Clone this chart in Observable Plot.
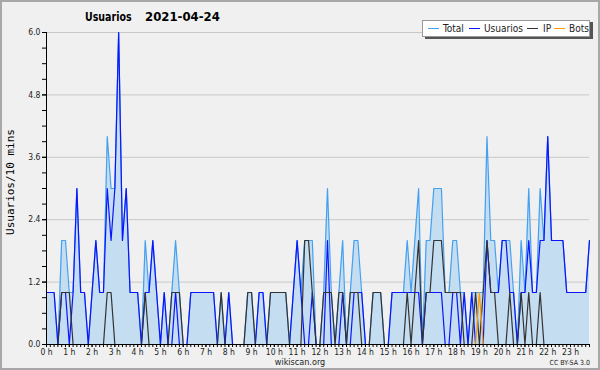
<!DOCTYPE html>
<html><head><meta charset="utf-8">
<script src="https://cdn.jsdelivr.net/npm/d3@7"></script>
<script src="https://cdn.jsdelivr.net/npm/@observablehq/plot@0.6"></script>
<style>
body{margin:0;background:#f0f0f0;}
#wrap{position:relative;width:600px;height:370px;background:#f0f0f0;font-family:"DejaVu Sans Condensed","DejaVu Sans",sans-serif;overflow:hidden;color:#000}
#frame{position:absolute;left:0;top:0;width:600px;height:370px;box-sizing:border-box;border:2px solid #a8a8a8;pointer-events:none}
.tt{position:absolute;top:9px;font-weight:bold;font-size:13px;white-space:pre;line-height:16px}
#t1{left:85px;transform:scaleX(0.81);transform-origin:0 0}
#t2{left:145px}
#legend{position:absolute;left:422px;top:20px;width:166px;height:15px;background:#fff;border:1px solid #999;box-shadow:3px 2px 0 #555;}
.lg{position:absolute;top:0;font-size:10px;line-height:15px;white-space:nowrap;color:#222}
.dash{position:absolute;top:7px;width:11px;height:1.4px}
#ytitle{position:absolute;left:10px;top:182px;transform:translate(-50%,-50%) rotate(-90deg);font-family:"DejaVu Sans Mono",monospace;font-size:11px;white-space:nowrap}
#site{position:absolute;left:300px;top:357px;transform:translateX(-50%);font-size:9px;line-height:10px;color:#222}
#cc{position:absolute;right:10px;top:359px;font-size:7px;line-height:8px;color:#222}
svg{position:absolute;left:0;top:0}
</style></head>
<body>
<div id="wrap">
  <div class="tt" id="t1">Usuarios</div>
  <div class="tt" id="t2">2021-04-24</div>
  <div id="ytitle">Usuarios/10 mins</div>
  <div id="site">wikiscan.org</div>
  <div id="cc">CC BY-SA 3.0</div>
  <div id="legend"></div>
  <div id="frame"></div>
</div>
<script>
// 10-minute slots, 0 .. 143
const total = [1,1,1,0,2,2,1,1,3,1,1,0,1,2,1,1,4,3,3,6,2,3,1,1,1,0,2,1,2,1,0,1,0,1,2,1,0,0,1,1,
1,1,1,1,1,0,1,0,1,0,0,0,0,1,1,0,1,1,0,1,1,1,1,1,0,1,2,1,2,2,2,0,0,1,3,1,0,1,2,0,
1,2,2,1,0,0,1,1,1,0,0,1,1,1,1,2,1,2,3,0,2,2,3,3,3,1,1,2,2,1,1,0,1,1,1,1,4,2,2,1,
2,2,2,1,0,2,1,3,1,1,3,2,4,2,2,2,2,1,1,1,1,1,1,2];
const usuarios = [1,1,1,0,1,1,0,1,3,1,1,0,1,2,1,1,3,2,3,6,2,3,1,1,1,0,1,1,2,1,0,1,0,0,1,0,0,0,1,1,
1,1,1,1,1,0,0,0,1,0,0,0,0,0,0,0,1,1,0,0,0,0,0,0,0,1,2,1,0,0,1,0,0,0,2,0,0,0,1,0,
0,1,1,1,0,0,0,0,0,0,0,1,1,1,1,1,1,1,1,0,1,1,1,1,1,0,0,1,1,0,1,0,1,0,0,0,2,1,1,1,
2,2,1,1,0,1,1,2,1,1,2,2,4,2,2,2,2,1,1,1,1,1,1,2];
const ip = [0,0,0,0,1,1,1,0,0,0,0,0,0,0,0,0,1,1,0,0,0,0,0,0,0,0,1,0,0,0,0,0,0,1,1,1,0,0,0,0,
0,0,0,0,0,0,1,0,0,0,0,0,0,1,1,0,0,0,0,1,1,1,1,1,0,0,0,0,2,2,1,0,0,1,1,1,0,1,1,0,
1,1,1,0,0,0,1,1,1,0,0,0,0,0,0,1,0,1,2,0,1,1,2,2,2,1,1,1,1,1,0,0,0,1,0,1,2,1,1,0,
0,0,1,0,0,1,0,1,0,0,1,0,0,0,0,0,0,0,0,0,0,0,0,0];
const bots = [0,0,0,0,0,0,0,0,0,0,0,0,0,0,0,0,0,0,0,0,0,0,0,0,0,0,0,0,0,0,0,0,0,0,0,0,0,0,0,0,
0,0,0,0,0,0,0,0,0,0,0,0,0,0,0,0,0,0,0,0,0,0,0,0,0,0,0,0,0,0,0,0,0,0,0,0,0,0,0,0,
0,0,0,0,0,0,0,0,0,0,0,0,0,0,0,0,0,0,0,0,0,0,0,0,0,0,0,0,0,0,0,0,0,0,1,0,0,0,0,0,
0,0,0,0,0,0,0,0,0,0,0,0,0,0,0,0,0,0,0,0,0,0,0,0];
const hourLabels = d3.range(24).map(h => h + " h");
const yMajor = [1.2, 2.4, 3.6, 4.8, 6.0];
const yLabels = [0, 1.2, 2.4, 3.6, 4.8, 6.0];

const legendItems = [
  {name:"Total", color:"#44a0f0", dx:5, tx:20},
  {name:"Usuarios", color:"#0a14ff", dx:46, tx:61},
  {name:"IP", color:"#333333", dx:104, tx:120},
  {name:"Bots", color:"#ff9a00", dx:131, tx:146}
];

const rows = total.map((t, i) => ({i, total:t, usuarios:usuarios[i], ip:ip[i], bots:bots[i]}));

const chart = Plot.plot({
  width:600, height:370,
  marginLeft:46, marginRight:11, marginTop:32, marginBottom:26,
  style:{background:"transparent", fontFamily:"'DejaVu Sans Condensed','DejaVu Sans',sans-serif", fontSize:"8.5px", color:"#000", overflow:"visible"},
  x:{domain:[0,143], axis:null},
  y:{domain:[0,6], axis:null},
  marks:[
    Plot.gridY(yMajor, {stroke:"#c8c8c8", strokeOpacity:1}),
    Plot.areaY(rows, {x:"i", y:"total", fill:"#c5ddf1", curve:"linear"}),
    Plot.line(rows, {x:"i", y:"total", stroke:"#44a0f0", strokeWidth:1.2}),
    Plot.line(rows, {x:"i", y:"usuarios", stroke:"#0a14ff", strokeWidth:1.2}),
    Plot.line(rows, {x:"i", y:"ip", stroke:"#333333", strokeWidth:1.2}),
    Plot.line(rows, {x:"i", y:"bots", stroke:"#ff9a00", strokeWidth:1.2}),
    Plot.ruleY([0], {stroke:"#000"}),
    Plot.ruleX([0], {stroke:"#000"}),
    Plot.axisY({ticks:d3.range(0, 21).map(k => k * 0.3), tickSize:4, tickFormat:() => "", stroke:"#000", label:null}),
    Plot.axisY({ticks:yLabels, tickSize:4, tickPadding:2, tickFormat:d => d3.format(".1f")(d), fill:"#222", label:null}),
    Plot.axisX({ticks:d3.range(144), tickSize:3, tickFormat:() => "", label:null}),
    Plot.axisX({ticks:d3.range(0,144,6), tickSize:3, tickPadding:1, tickFormat:d => hourLabels[d/6], fill:"#222", label:null})
  ]
});
document.getElementById("wrap").insertBefore(chart, document.getElementById("t1"));

const lg = document.getElementById("legend");
legendItems.forEach(it => {
  const d = document.createElement("div");
  d.className = "dash"; d.style.left = it.dx + "px"; d.style.background = it.color;
  lg.appendChild(d);
  const t = document.createElement("div");
  t.className = "lg"; t.style.left = it.tx + "px"; t.textContent = it.name;
  lg.appendChild(t);
});
</script>
</body></html>
